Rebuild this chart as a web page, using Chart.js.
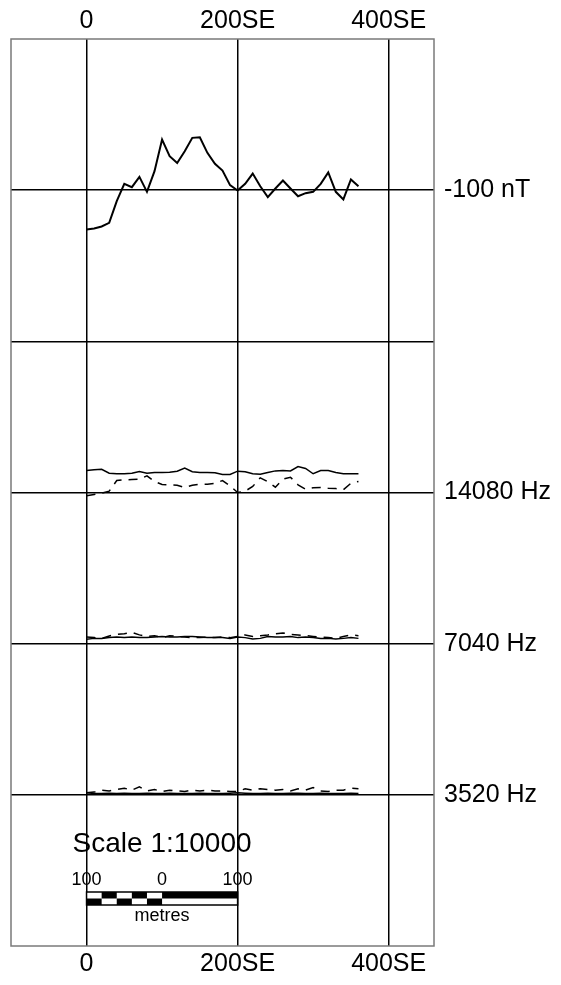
<!DOCTYPE html>
<html>
<head>
<meta charset="utf-8">
<script src="https://cdn.jsdelivr.net/npm/chart.js@4.4.1/dist/chart.umd.min.js"></script>
<style>
html, body { margin: 0; padding: 0; background: #fff; }
canvas { display: block; }
</style>
</head>
<body>
<canvas id="profile" width="561" height="985"></canvas>
<script>
// station positions along the line (metres)
const stations = [0, 10, 20, 30, 40, 50, 60, 70, 80, 90, 100, 110, 120, 130, 140, 150, 160, 170, 180,
    190, 200, 210, 220, 230, 240, 250, 260, 270, 280, 290, 300, 310, 320, 330, 340, 350, 360];

// total magnetic field (nT)
const magField = [-126.0, -125.3, -124.0, -121.6, -107.3, -95.8, -98.0, -91.2, -101.1, -87.4, -66.5, -77.5,
    -82.0, -74.2, -65.4, -65.0, -75.3, -82.6, -87.0, -96.7, -100.2, -95.8, -89.0, -97.4, -104.6, -98.9,
    -93.6, -98.9, -104.0, -102.0, -101.1, -95.8, -88.3, -101.1, -106.1, -92.9, -97.4];

// EM in-phase (solid) and quadrature (dashed), ppm
const em14080Inphase = [14.5, 15.0, 15.4, 12.8, 12.4, 12.4, 12.8, 13.9, 12.8, 13.2, 13.2, 13.4, 14.1, 16.1,
    13.7, 13.2, 13.2, 13.0, 11.9, 11.9, 14.1, 13.7, 12.4, 12.1, 13.2, 14.3, 14.5, 14.3, 17.2, 15.9, 12.4,
    14.5, 14.5, 13.2, 12.4, 12.4, 12.4];
const em14080Quad = [-2.2, -1.3, -0.5, 0.9, 7.9, 8.4, 8.6, 8.8, 11.0, 7.3, 5.3, 5.1, 4.8, 3.3, 4.8, 5.5,
    5.5, 6.1, 7.9, 4.4, 0.0, 0.9, 4.0, 9.7, 7.1, 3.5, 8.8, 10.1, 5.1, 2.2, 3.1, 3.3, 2.8, 2.6, 1.8, 6.1, 7.3];
const em7040Inphase = [2.9, 3.5, 3.5, 4.0, 4.4, 4.0, 4.4, 4.0, 4.0, 4.4, 4.8, 4.4, 4.4, 4.8, 4.8, 4.4, 4.0,
    4.0, 4.0, 3.5, 4.4, 4.0, 3.1, 3.5, 4.8, 4.4, 4.4, 4.8, 4.0, 4.4, 4.0, 3.5, 3.5, 3.1, 3.5, 4.0, 3.5];
const em7040Quad = [4.4, 4.0, 3.5, 5.1, 6.1, 6.6, 7.5, 5.8, 4.8, 5.3, 4.0, 5.3, 4.8, 4.4, 4.0, 4.0, 4.4,
    4.0, 4.4, 4.0, 4.8, 5.8, 4.8, 5.3, 5.8, 6.6, 7.1, 6.1, 5.8, 5.3, 4.8, 4.4, 4.0, 3.5, 4.8, 5.8, 5.3];
const em3520Inphase = [1.3, 0.9, 0.9, 1.1, 0.9, 1.1, 0.9, 0.9, 1.1, 0.9, 0.9, 1.1, 0.9, 0.9, 0.9, 1.1, 0.9,
    0.9, 0.9, 1.1, 1.3, 1.1, 0.9, 0.9, 1.1, 0.9, 0.9, 1.1, 1.1, 0.9, 0.9, 1.1, 0.9, 0.9, 0.9, 1.1, 0.9];
const em3520Quad = [1.3, 1.8, 3.1, 2.6, 3.5, 4.4, 3.1, 5.3, 2.6, 3.5, 2.2, 3.1, 2.6, 2.2, 3.1, 2.6, 3.1,
    2.6, 2.6, 2.2, 2.2, 4.0, 3.1, 4.0, 3.5, 3.1, 3.5, 2.6, 4.0, 3.1, 4.8, 2.6, 2.2, 3.1, 3.1, 4.4, 4.0];

// axis text
const xTickValues = [0, 200, 400];
const xTickLabels = ['0', '200SE', '400SE'];
const bandValues = [1, 2, 3, 4, 5];
const bandLabels = ['3520 Hz', '7040 Hz', '14080 Hz', '', '-100 nT'];
const scaleTitle = 'Scale 1:10000';
const scaleLabels = ['100', '0', '100'];
const scaleUnit = 'metres';

const FONT = '"Liberation Sans", Arial, Helvetica, sans-serif';

// each profile sits on its own band line; value -> band units
function profile(values, base, ref, perBand) {
    return stations.map((x, i) => ({ x: x, y: base + (values[i] - ref) / perBand }));
}

function line(data, width, dash) {
    return {
        data: data,
        borderColor: '#000',
        borderWidth: width,
        borderDash: dash || [],
        pointRadius: 0,
        tension: 0,
        fill: false
    };
}

const framePlugin = {
    id: 'frame',
    afterDraw(chart) {
        const { ctx, chartArea: a } = chart;
        ctx.save();
        ctx.strokeStyle = '#7a7a7a';
        ctx.lineWidth = 1.5;
        ctx.strokeRect(a.left, a.top, a.right - a.left, a.bottom - a.top);
        ctx.restore();
    }
};

// scale bar in the lower left, tied to the x scale (metres)
const scaleBarPlugin = {
    id: 'scaleBar',
    afterDatasetsDraw(chart) {
        const { ctx, chartArea: a } = chart;
        const xs = chart.scales.x;
        const x0 = xs.getPixelForValue(0);
        const xm = xs.getPixelForValue(100);
        const x1 = xs.getPixelForValue(200);
        const top = a.bottom - 54;
        const h = 13;
        ctx.save();
        ctx.fillStyle = '#000';
        ctx.textAlign = 'center';
        ctx.textBaseline = 'alphabetic';
        ctx.font = '28px ' + FONT;
        ctx.fillText(scaleTitle, xm, a.bottom - 94);
        ctx.font = '18px ' + FONT;
        ctx.fillText(scaleLabels[0], x0, a.bottom - 61);
        ctx.fillText(scaleLabels[1], xm, a.bottom - 61);
        ctx.fillText(scaleLabels[2], x1, a.bottom - 61);
        ctx.fillText(scaleUnit, xm, a.bottom - 25);

        ctx.fillStyle = '#fff';
        ctx.fillRect(x0, top, x1 - x0, h);
        ctx.fillStyle = '#000';
        const seg = (xm - x0) / 5;
        for (let i = 0; i < 5; i++) {
            const sx = x0 + i * seg;
            if (i % 2 === 1) ctx.fillRect(sx, top, seg, h / 2);
            else ctx.fillRect(sx, top + h / 2, seg, h / 2);
        }
        ctx.fillRect(xm, top, x1 - xm, h / 2);
        ctx.strokeStyle = '#000';
        ctx.lineWidth = 1.5;
        ctx.strokeRect(x0, top, x1 - x0, h);
        ctx.restore();
    }
};

const ctx = document.getElementById('profile');

new Chart(ctx, {
    type: 'line',
    data: {
        datasets: [
            line(profile(magField, 5, -100, 100), 2),
            line(profile(em14080Inphase, 3, 0, 100), 1.5),
            line(profile(em14080Quad, 3, 0, 100), 1.5, [9, 7]),
            line(profile(em7040Inphase, 2, 0, 100), 1.5),
            line(profile(em7040Quad, 2, 0, 100), 1.5, [9, 7]),
            line(profile(em3520Inphase, 1, 0, 100), 1.5),
            line(profile(em3520Quad, 1, 0, 100), 1.5, [9, 7])
        ]
    },
    options: {
        responsive: false,
        animation: false,
        layout: { padding: { left: 11, right: 0, top: 0, bottom: 0 } },
        plugins: {
            legend: { display: false },
            tooltip: { enabled: false }
        },
        scales: {
            x: {
                type: 'linear',
                position: 'top',
                min: -100,
                max: 460,
                afterBuildTicks: (axis) => { axis.ticks = xTickValues.map(v => ({ value: v })); },
                afterFit: (axis) => { axis.height = 39; },
                grid: { color: '#000', lineWidth: 1.5, drawTicks: false },
                border: { display: false },
                ticks: {
                    padding: 3,
                    color: '#000',
                    font: { family: FONT, size: 25 },
                    maxRotation: 0,
                    callback: (v) => xTickLabels[xTickValues.indexOf(v)]
                }
            },
            xBottom: {
                type: 'linear',
                position: 'bottom',
                min: -100,
                max: 460,
                afterBuildTicks: (axis) => { axis.ticks = xTickValues.map(v => ({ value: v })); },
                afterFit: (axis) => { axis.height = 39; },
                grid: { display: false, drawTicks: false },
                border: { display: false },
                ticks: {
                    padding: 3,
                    color: '#000',
                    font: { family: FONT, size: 25 },
                    maxRotation: 0,
                    callback: (v) => xTickLabels[xTickValues.indexOf(v)]
                }
            },
            y: {
                type: 'linear',
                position: 'right',
                min: 0,
                max: 6,
                afterBuildTicks: (axis) => { axis.ticks = bandValues.map(v => ({ value: v })); },
                afterFit: (axis) => { axis.width = 127; },
                grid: { color: '#000', lineWidth: 1.5, drawTicks: false },
                border: { display: false },
                ticks: {
                    padding: 10,
                    color: '#000',
                    font: { family: FONT, size: 25 },
                    callback: (v) => bandLabels[bandValues.indexOf(v)]
                }
            }
        }
    },
    plugins: [framePlugin, scaleBarPlugin]
});
</script>
</body>
</html>
